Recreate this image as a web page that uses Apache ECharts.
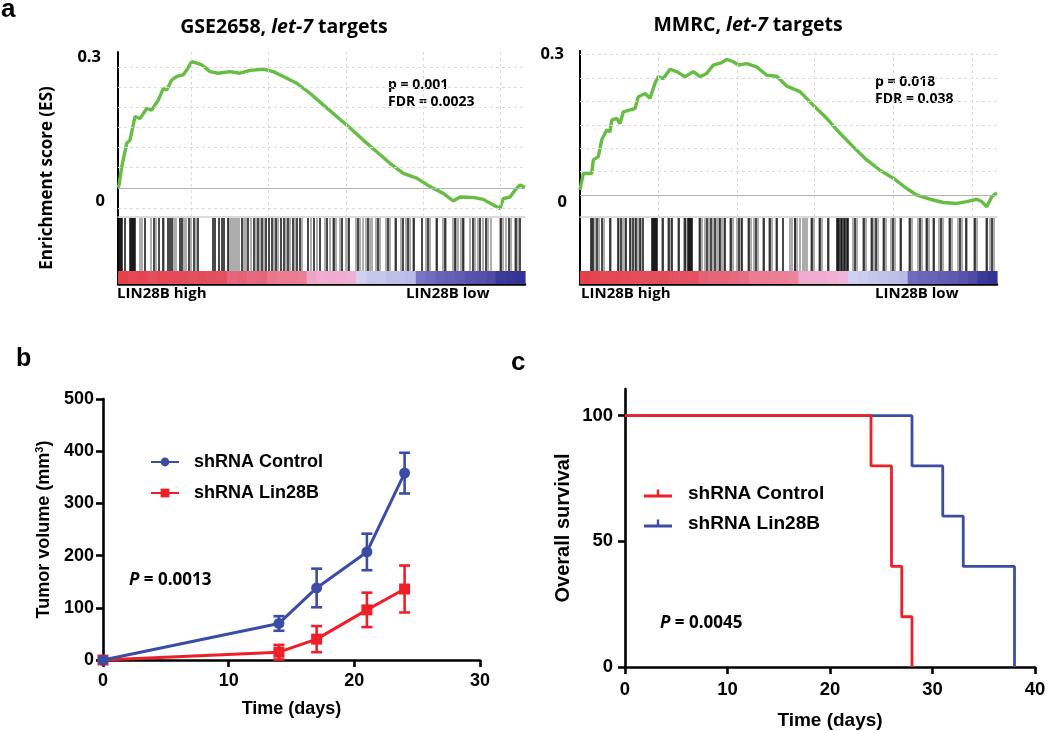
<!DOCTYPE html>
<html><head><meta charset="utf-8">
<script src="https://cdn.jsdelivr.net/npm/echarts@6/dist/echarts.min.js"></script>
<style>html,body{margin:0;padding:0;background:#fff}#c{width:1050px;height:731px}</style>
</head><body><div id="c"></div>
<script>
// ---------- Panel a: GSEA (x = position in ranked list, bins) ----------
const esLeft = [[0,0.0],[1,0.007],[3.7,0.052],[8.7,0.111],[12,0.119],[17,0.178],[22,0.173],[28.7,0.198],[33.7,0.194],[40.3,0.219],[45.3,0.248],[48.7,0.244],[53.7,0.269],[58.7,0.278],[65.3,0.282],[68.7,0.294],[73.7,0.315],[78.7,0.311],[83.7,0.307],[92,0.29],[100.3,0.286],[112,0.29],[122,0.286],[132,0.293],[145.3,0.296],[155.3,0.29],[165.3,0.278],[178.7,0.261],[192,0.236],[205.3,0.207],[218.7,0.178],[232,0.149],[245.3,0.119],[258.7,0.09],[272,0.061],[285.3,0.036],[298.7,0.024],[312,0.003],[325.3,-0.014],[335.3,-0.033],[342,-0.023],[355.3,-0.024],[365.3,-0.029],[375.3,-0.043],[382,-0.052],[385.3,-0.027],[392,-0.023],[397,-0.006],[402,0.007],[407,0.001]];
const esRight = [[0,0.011],[3.3,0.046],[11.7,0.046],[13.3,0.075],[18.3,0.082],[21.7,0.118],[26.7,0.139],[30,0.135],[31.7,0.16],[36.7,0.164],[40,0.153],[43.3,0.178],[50,0.182],[55,0.185],[58.3,0.21],[65,0.217],[70,0.207],[75,0.239],[78.3,0.253],[83.3,0.249],[90,0.269],[96.7,0.264],[105,0.253],[113.3,0.264],[120,0.253],[126.7,0.26],[133.3,0.278],[141.7,0.283],[146.7,0.29],[153.3,0.285],[158.3,0.278],[166.7,0.281],[176.7,0.274],[186.7,0.256],[196.7,0.254],[206.7,0.233],[220,0.221],[233.3,0.192],[246.7,0.164],[260,0.132],[273.3,0.103],[286.7,0.075],[300,0.053],[313.3,0.036],[326.7,0.014],[336.7,0],[350,-0.009],[363.3,-0.016],[376.7,-0.018],[386.7,-0.014],[396.7,-0.009],[401.7,-0.014],[406.7,-0.025],[411.7,-0.004],[416.7,0.005]];

const hitsLeftDark = [1,2,3,4,7,12,13,14,15,16,17,27,36,41,45,50,52,54,62,64,71,76,80,95,97,101,104,106,110,124,130,136,140,144,148,151,154,158,163,166,170,175,179,182,190,196,202,209,216,224,231,240,250,260,270,278,285,290,296,304,310,319,327,337,345,355,362,368,383,391,398,402];
const hitsLeftLight = [22,24,33,38,46,56,58,66,68,73,78,111,113,115,117,119,121,126,128,133,138,142,146,156,160,168,172,177,184,193,199,207,212,215,218,222,228,230,238,242,245,248,252,254,258,262,268,272,277,283,288,292,295,308,312,318,325,328,335,338,340,343,346,352,357,360,365,370,373,382,385,388,393,397,400];
const hitsRightDark = [11,13,17,22,30,38,41,46,50,53,56,60,63,72,73,74,75,76,77,83,89,92,99,105,108,109,110,111,112,120,127,131,135,140,145,151,159,162,169,176,184,190,197,203,215,232,240,248,257,258,259,261,262,264,265,267,268,275,284,292,296,304,313,321,330,340,347,354,361,370,380,386,395,407,412];
const hitsRightLight = [12,15,19,24,31,39,43,45,51,55,58,61,82,88,91,98,104,106,119,122,125,129,133,137,139,142,144,150,153,157,161,168,171,174,178,183,189,192,196,210,212,215,217,220,223,225,227,231,234,239,242,249,273,277,283,286,291,294,298,303,306,311,315,320,329,332,338,342,346,349,353,359,363,369,372,378,382,387,394,397,406,410,414];

const metricLeft = [0.95,0.9,0.92,0.85,0.9,0.88,0.86,0.84,0.87,0.85,0.83,0.7,0.72,0.68,0.7,0.62,0.6,0.6,0.58,0.35,0.3,0.32,0.3,0.28,0.0,-0.05,-0.05,-0.1,-0.1,-0.12,-0.5,-0.55,-0.6,-0.62,-0.65,-0.7,-0.72,-0.75,-0.9,-0.92,-0.95];
const metricRight = [0.95,0.92,0.9,0.9,0.88,0.87,0.86,0.85,0.86,0.84,0.83,0.82,0.72,0.7,0.7,0.68,0.66,0.6,0.6,0.58,0.57,0.55,0.32,0.3,0.3,0.28,0.25,0.0,-0.02,-0.05,-0.08,-0.1,-0.12,-0.55,-0.58,-0.6,-0.63,-0.66,-0.7,-0.75,-0.9,-0.95];

const esGridYLeft = [-0.05,0.05,0.1,0.15,0.2,0.25,0.3];
const esGridYRight = [0.05,0.1,0.15,0.2,0.25,0.3];
const rankGridXLeft = [73,150,228,305,382];
const rankGridXRight = [78,157,234,313,392];
const esTickLabels = [0, 0.3];

// ---------- Panel b: tumor volume ----------
const days = [0,14,17,21,24];
const ctrlMean = [0,70,138,207,358];
const ctrlSem = [0,14,37,35,39];
const linMean = [0,15,40,96,136];
const linSem = [0,14,25,33,45];

// ---------- Panel c: survival ----------
const survCtrlT = [0,24,26,27,28];
const survCtrlS = [100,80,40,20,0];
const survLinT = [0,28,31,33,38];
const survLinS = [100,80,60,40,0];
const survTicks = [0,50,100];

// ---------- styles ----------
const FA = '"Open Sans", "Noto Sans", sans-serif';
const FP = '"Liberation Sans", Arial, sans-serif';
const GREEN = '#66bd43';
const BLUE = '#3a4ca6';
const RED = '#ee1f27';

function barcodeItem(params, api){
  const x = api.value(0);
  const p0 = api.coord([x,0]), p1 = api.coord([x,1]);
  return {type:'line', shape:{x1:p0[0],y1:p0[1],x2:p1[0],y2:p1[1]}, style:{stroke:api.visual('color'), lineWidth:api.visual('opacity') < 1 ? 1.1 : 1.5}};
}
function cellItem(params, api){
  const i = api.value(0);
  const a = api.coord([i,1]), b = api.coord([i+1,0]);
  return {type:'rect', shape:{x:a[0], y:a[1], width:b[0]-a[0]+0.6, height:b[1]-a[1]}, style:{fill:api.visual('color')}};
}
function errItem(params, api){
  const x = api.value(0), lo = api.value(1), hi = api.value(2);
  const t = api.coord([x,hi]), b = api.coord([x,lo]);
  const w = 5.5, st = {stroke:api.visual('color'), lineWidth:2.6};
  return {type:'group', children:[
    {type:'line', shape:{x1:t[0],y1:t[1],x2:b[0],y2:b[1]}, style:st},
    {type:'line', shape:{x1:t[0]-w,y1:t[1],x2:t[0]+w,y2:t[1]}, style:st},
    {type:'line', shape:{x1:b[0]-w,y1:b[1],x2:b[0]+w,y2:b[1]}, style:st}
  ]};
}

const hidden = {show:false};
function esX(grid, max){ return {gridIndex:grid, type:'value', min:0, max:max, axisLine:{show:true, onZero:false, lineStyle:{color:'#cfcfcf', width:1.5}}, axisTick:hidden, axisLabel:hidden, splitLine:hidden}; }
function plainX(grid, max, line){ return {gridIndex:grid, type:'value', min:0, max:max, show:true, axisLine:{show:line, onZero:false, lineStyle:{color:'#000', width:2.5}}, axisTick:hidden, axisLabel:hidden, splitLine:hidden}; }
function plainY(grid){ return {gridIndex:grid, type:'value', min:0, max:1, axisLine:{show:true, lineStyle:{color:'#000', width:2}}, axisTick:hidden, axisLabel:hidden, splitLine:hidden}; }
function esY(grid, mn, mx, pad03, pad0){
  return {gridIndex:grid, type:'value', min:mn, max:mx,
    axisLine:{show:true, lineStyle:{color:'#000', width:2}}, axisTick:hidden, splitLine:hidden,
    axisLabel:{show:true, customValues:esTickLabels, margin:13, color:'#000',
      formatter:v => Math.abs(v) < 1e-9 ? '{z|0}' : '{t|0.3}',
      rich:{t:{fontFamily:FA, fontWeight:'bold', fontSize:16.5, color:'#000', padding:pad03},
            z:{fontFamily:FA, fontWeight:'bold', fontSize:16.5, color:'#000', padding:pad0}}}};
}
function gridLines(xi, yi, ys, xs){
  return {type:'line', xAxisIndex:xi, yAxisIndex:yi, data:[], z:1, silent:true,
    markLine:{silent:true, symbol:['none','none'], label:{show:false}, animation:false,
      lineStyle:{type:[3,3], color:'#dadada', width:1},
      data: ys.map(v=>({yAxis:v})).concat(xs.map(v=>({xAxis:v}))).concat([{yAxis:0, lineStyle:{type:'solid', color:'#b4b4b4', width:1.2}}])}};
}
function prismAxisStyle(){
  return {axisLine:{show:true, onZero:false, lineStyle:{color:'#000', width:2.6}},
    axisTick:{show:true, inside:false, length:7, lineStyle:{color:'#000', width:2.6}},
    splitLine:hidden};
}

const option = {
  animation:false,
  backgroundColor:'#fff',
  grid:[
    {left:118, top:52, width:407, height:165},
    {left:118, top:218, width:407, height:53},
    {left:118, top:271, width:407, height:13},
    {left:580, top:51, width:417, height:166},
    {left:580, top:218, width:417, height:53},
    {left:580, top:271, width:417, height:13},
    {left:103, top:399, width:377, height:261},
    {left:625, top:389, width:410, height:278}
  ],
  xAxis:[
    esX(0, 407), plainX(1, 407, false), plainX(2, metricLeft.length, true),
    esX(3, 417), plainX(4, 417, false), plainX(5, metricRight.length, true),
    Object.assign({gridIndex:6, type:'value', min:0, max:30, interval:10,
      name:'Time (days)', nameLocation:'middle', nameGap:40,
      nameTextStyle:{fontFamily:FP, fontWeight:'bold', fontSize:18, color:'#000'},
      axisLabel:{color:'#000', fontFamily:FP, fontWeight:'bold', fontSize:18, margin:12}}, prismAxisStyle()),
    Object.assign({gridIndex:7, type:'value', min:0, max:40, interval:10,
      name:'Time (days)', nameLocation:'middle', nameGap:44,
      nameTextStyle:{fontFamily:FP, fontWeight:'bold', fontSize:19, color:'#000'},
      axisLabel:{color:'#000', fontFamily:FP, fontWeight:'bold', fontSize:18.5, margin:13}}, prismAxisStyle())
  ],
  yAxis:[
    esY(0, -0.073, 0.339, [0,4,21,0], [28,0,0,0]), plainY(1), plainY(2),
    esY(3, -0.047, 0.308, [0,3,0,0], [14,0,0,0]), plainY(4), plainY(5),
    Object.assign({gridIndex:6, type:'value', min:0, max:500, interval:100,
      name:'{a|Tumor volume (mm}{s|3}{a|)}', nameLocation:'middle', nameGap:49, nameRotate:90,
      nameTextStyle:{rich:{a:{fontFamily:FP, fontWeight:'bold', fontSize:18, color:'#000'},
                           s:{fontFamily:FP, fontWeight:'bold', fontSize:11, color:'#000', padding:[0,0,9,0]}}},
      axisLabel:{color:'#000', fontFamily:FP, fontWeight:'bold', fontSize:18, margin:9}}, prismAxisStyle()),
    Object.assign({gridIndex:7, type:'value', min:0, max:110.6, interval:50,
      name:'Overall survival', nameLocation:'middle', nameGap:52, nameRotate:90,
      nameTextStyle:{fontFamily:FP, fontWeight:'bold', fontSize:20, color:'#000'},
      axisLabel:{color:'#000', fontFamily:FP, fontWeight:'bold', fontSize:18.5, margin:12, customValues:survTicks}}, prismAxisStyle(),
      {axisTick:{show:true, inside:false, length:7, customValues:survTicks, lineStyle:{color:'#000', width:2.6}}})
  ],
  visualMap:[{type:'continuous', show:false, seriesIndex:[4,9], dimension:1, min:-1, max:1,
    inRange:{color:['#2d2d90','#4f4aa8','#7873c4','#a5a3dc','#d0d0f0','#f0b4dc','#ee8fa6','#e35c70','#e43a40']}}],
  legend:[
    {left:150, top:453, orient:'vertical', padding:0, itemWidth:28, itemHeight:11, itemGap:13,
     data:['b:shRNA Control','b:shRNA Lin28B'], formatter:n=>n.slice(2), selectedMode:false,
     textStyle:{fontFamily:FP, fontWeight:'bold', fontSize:18, color:'#000', padding:[0,0,0,10]}},
    {left:644, top:484, orient:'vertical', padding:0, itemWidth:28, itemHeight:8, itemGap:11,
     data:[{name:'c:shRNA Control', icon:'path://M0,5L28,5L28,8L0,8ZM12.8,0L15.2,0L15.2,5L12.8,5Z'},
           {name:'c:shRNA Lin28B', icon:'path://M0,5L28,5L28,8L0,8ZM12.8,0L15.2,0L15.2,5L12.8,5Z'}],
     formatter:n=>n.slice(2), selectedMode:false,
     textStyle:{fontFamily:FP, fontWeight:'bold', fontSize:19, color:'#000', padding:[0,0,0,11]}}
  ],
  series:[
    // 0-4 left GSEA
    gridLines(0, 0, esGridYLeft, rankGridXLeft),
    {type:'line', xAxisIndex:0, yAxisIndex:0, data:esLeft, showSymbol:false, z:3, lineStyle:{color:GREEN, width:3.4}, itemStyle:{color:GREEN}},
    {type:'custom', xAxisIndex:1, yAxisIndex:1, data:hitsLeftLight.map(v=>[v,1]), renderItem:barcodeItem, itemStyle:{color:'#929292', opacity:0.99}},
    {type:'custom', xAxisIndex:1, yAxisIndex:1, data:hitsLeftDark.map(v=>[v,1]), renderItem:barcodeItem, itemStyle:{color:'#0d0d0d'}},
    {type:'custom', xAxisIndex:2, yAxisIndex:2, data:metricLeft.map((m,i)=>[i,m]), renderItem:cellItem},
    // 5-9 right GSEA
    gridLines(3, 3, esGridYRight, rankGridXRight),
    {type:'line', xAxisIndex:3, yAxisIndex:3, data:esRight, showSymbol:false, z:3, lineStyle:{color:GREEN, width:3.4}, itemStyle:{color:GREEN}},
    {type:'custom', xAxisIndex:4, yAxisIndex:4, data:hitsRightLight.map(v=>[v,1]), renderItem:barcodeItem, itemStyle:{color:'#929292', opacity:0.99}},
    {type:'custom', xAxisIndex:4, yAxisIndex:4, data:hitsRightDark.map(v=>[v,1]), renderItem:barcodeItem, itemStyle:{color:'#0d0d0d'}},
    {type:'custom', xAxisIndex:5, yAxisIndex:5, data:metricRight.map((m,i)=>[i,m]), renderItem:cellItem},
    // 10-13 panel b
    {type:'custom', xAxisIndex:6, yAxisIndex:6, data:days.map((d,i)=>[d,linMean[i]-linSem[i],linMean[i]+linSem[i],linSem[i]]).filter(r=>r[3]>0), renderItem:errItem, itemStyle:{color:RED}, z:2},
    {type:'line', name:'b:shRNA Lin28B', xAxisIndex:6, yAxisIndex:6, data:days.map((d,i)=>[d,linMean[i]]), symbol:'rect', symbolSize:11, lineStyle:{color:RED, width:3}, itemStyle:{color:RED}, z:3},
    {type:'custom', xAxisIndex:6, yAxisIndex:6, data:days.map((d,i)=>[d,ctrlMean[i]-ctrlSem[i],ctrlMean[i]+ctrlSem[i],ctrlSem[i]]).filter(r=>r[3]>0), renderItem:errItem, itemStyle:{color:BLUE}, z:4},
    {type:'line', name:'b:shRNA Control', xAxisIndex:6, yAxisIndex:6, data:days.map((d,i)=>[d,ctrlMean[i]]), symbol:'circle', symbolSize:11, lineStyle:{color:BLUE, width:3}, itemStyle:{color:BLUE}, z:5},
    // 14-15 panel c
    {type:'line', name:'c:shRNA Lin28B', xAxisIndex:7, yAxisIndex:7, step:'end', data:survLinT.map((t,i)=>[t,survLinS[i]]), showSymbol:false, lineStyle:{color:BLUE, width:2.8}, itemStyle:{color:BLUE}, z:3},
    {type:'line', name:'c:shRNA Control', xAxisIndex:7, yAxisIndex:7, step:'end', data:survCtrlT.map((t,i)=>[t,survCtrlS[i]]), showSymbol:false, lineStyle:{color:RED, width:2.8}, itemStyle:{color:RED}, z:4}
  ],
  graphic:[
    {type:'text', x:1, y:10, style:{text:'a', font:'bold 26px '+FP, fill:'#000', verticalAlign:'middle'}},
    {type:'text', x:16, y:359, style:{text:'b', font:'bold 25px '+FP, fill:'#000', verticalAlign:'middle'}},
    {type:'text', x:511, y:363, style:{text:'c', font:'bold 26px '+FP, fill:'#000', verticalAlign:'middle'}},
    {type:'text', x:284, y:27, style:{text:'{b|GSE2658, }{i|let-7}{b| targets}', align:'center', verticalAlign:'middle',
      rich:{b:{fontFamily:FA, fontWeight:'bold', fontSize:19.5, fill:'#000'}, i:{fontFamily:FA, fontWeight:'bold', fontStyle:'italic', fontSize:19.5, fill:'#000'}}}},
    {type:'text', x:748, y:25, style:{text:'{b|MMRC, }{i|let-7}{b| targets}', align:'center', verticalAlign:'middle',
      rich:{b:{fontFamily:FA, fontWeight:'bold', fontSize:19.5, fill:'#000'}, i:{fontFamily:FA, fontWeight:'bold', fontStyle:'italic', fontSize:19.5, fill:'#000'}}}},
    {type:'text', x:47, y:178, rotation:Math.PI/2, style:{text:'Enrichment score (ES)', font:'bold 17px '+FA, fill:'#000', align:'center', verticalAlign:'middle'}},
    {type:'text', x:388, y:85, style:{text:'p = 0.001', font:'bold 14px '+FA, fill:'#000', verticalAlign:'middle'}},
    {type:'text', x:388, y:102, style:{text:'FDR = 0.0023', font:'bold 14px '+FA, fill:'#000', verticalAlign:'middle'}},
    {type:'text', x:875, y:82, style:{text:'p = 0.018', font:'bold 14px '+FA, fill:'#000', verticalAlign:'middle'}},
    {type:'text', x:875, y:99, style:{text:'FDR = 0.038', font:'bold 14px '+FA, fill:'#000', verticalAlign:'middle'}},
    {type:'text', x:117, y:294, style:{text:'LIN28B high', font:'bold 15px '+FA, fill:'#000', verticalAlign:'middle'}},
    {type:'text', x:406, y:294, style:{text:'LIN28B low', font:'bold 15px '+FA, fill:'#000', verticalAlign:'middle'}},
    {type:'text', x:581, y:294, style:{text:'LIN28B high', font:'bold 15px '+FA, fill:'#000', verticalAlign:'middle'}},
    {type:'text', x:875, y:294, style:{text:'LIN28B low', font:'bold 15px '+FA, fill:'#000', verticalAlign:'middle'}},
    {type:'text', x:129, y:580, style:{text:'{i|P}{n| = 0.0013}', verticalAlign:'middle',
      rich:{i:{fontFamily:FA, fontWeight:'bold', fontStyle:'italic', fontSize:17, fill:'#000'}, n:{fontFamily:FA, fontWeight:'bold', fontSize:17, fill:'#000'}}}},
    {type:'text', x:660, y:623, style:{text:'{i|P}{n| = 0.0045}', verticalAlign:'middle',
      rich:{i:{fontFamily:FA, fontWeight:'bold', fontStyle:'italic', fontSize:17, fill:'#000'}, n:{fontFamily:FA, fontWeight:'bold', fontSize:17, fill:'#000'}}}}
  ]
};
const chart = echarts.init(document.getElementById('c'), null, {renderer:'canvas'});
chart.setOption(option);
</script></body></html>
